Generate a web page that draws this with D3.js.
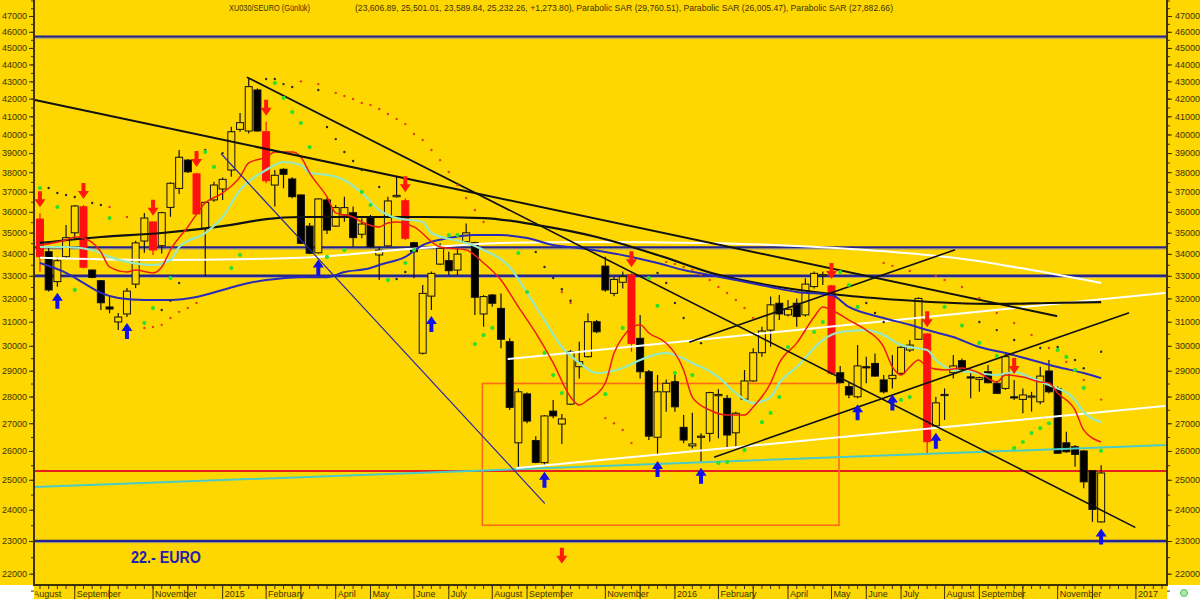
<!DOCTYPE html>
<html><head><meta charset="utf-8">
<script src="https://cdn.jsdelivr.net/npm/d3@7"></script>
<style>
body{margin:0;background:#fff;}
svg{display:block;}
text{font-family:"Liberation Sans",Arial,sans-serif;}
</style>
</head><body>
<svg id="c" width="1200" height="599"></svg>
<script>
// ---------------- DATA ----------------
const firstWeek = "2014-08-04";           // first weekly bar
const openP  = [35650,34100,32740,33870,34990,36250,33260,32780,31630,30990,31330,32630,34600,35510,34380,36220,37170,38630,37910,35200,36590,37140,38110,40280,40190,42500,40150,37340,38150,37650,36840,35310,34050,36590,35310,35850,35960,34920,35760,33950,34370,36750,36550,34520,29700,32100,33530,33690,33260,34570,34520,31330,32150,31570,30170,26290,28100,26370,25590,27450,26970,27710,29160,29560,31000,33440,32220,32710,33040,30310,28960,26490,28180,28570,26850,26180,26510,26630,28030,27930,26650,27900,28600,29720,30650,31790,31290,31790,31290,32520,33000,32550,28920,28380,27990,29160,29290,28640,28690,28900,29830,30270,30490,26900,28060,28920,29400,28760,28660,28960,28510,28310,27990,27890,27990,27800,28990,28310,26290,26150,26000,25310,23606.89];
const highP  = [35930,34330,33870,35360,36340,36340,33290,32810,32080,31370,32460,34610,35950,35520,36010,37480,39160,38690,37960,36500,37510,37730,40430,41190,43200,42590,40700,38110,38200,37740,36870,35460,36670,36690,36340,36750,36260,35690,35850,34330,36750,37800,36670,34570,32590,33190,34490,34100,34270,35440,34570,32150,32190,32220,30310,28310,28150,26530,27300,27870,27340,29830,30170,31360,31070,33870,32960,33190,33110,31290,29030,28830,28660,28960,27300,27390,26630,28180,28280,28060,27430,29030,29900,30790,32080,32150,31930,32000,32890,33190,33190,32590,29190,28570,30030,29560,29690,28830,29630,30030,30240,32050,30520,27980,28310,29630,29490,28900,28760,29230,28610,29690,28640,28310,28180,29160,29430,28380,26690,26210,26030,25330,25501.01];
const lowP   = [33180,32300,32510,33810,34650,33330,32890,31500,31360,30650,31200,32460,34050,33950,34020,35760,36890,37960,35850,32990,36500,36590,37770,40150,40060,40150,37430,36260,37170,36670,34470,33990,34020,34930,35280,35520,34330,34730,34270,32810,34330,36700,34650,32890,29650,31500,33490,33040,33040,34490,31290,30790,31640,29900,27490,25390,27000,25570,25480,27180,26250,27680,28700,29530,30520,32290,32100,32440,29760,28700,26390,25860,27430,27430,26270,26090,25620,26330,26450,26090,26150,27870,28570,29560,29960,31070,31220,30790,31220,32440,32590,28830,28510,27930,27930,28510,28760,28120,28310,28830,29750,30240,25860,26870,27120,28700,29030,27930,28180,28510,28100,28250,27870,27370,27430,27710,28120,25900,25940,25450,24710,23610,23589.84];
const closeP = [33870,32370,33685,34760,36290,33390,32930,31810,31540,31200,32320,34510,35700,34180,35960,37430,38780,38020,35900,36470,37340,37630,40150,40650,42690,40190,37560,37840,37890,36750,34490,34030,36640,35120,36210,36210,34760,35410,34330,34170,36540,36820,34730,34100,32220,33110,34260,33230,33990,34990,32050,32080,31790,30270,27590,28180,27080,25600,27270,27270,27160,29760,29360,31000,30580,32370,32840,32960,30100,28960,26530,28180,28510,27610,26390,26250,26530,28150,28080,26570,27370,28600,29720,30610,31720,31330,31530,31220,32630,33110,33050,28900,28530,28060,29190,29120,28790,28180,28820,29940,30030,32000,26330,27760,28080,29190,29060,28730,28730,28530,28120,29560,27950,28060,28020,28790,28180,25920,25970,25880,24930,24010,25232.26];
const redBars   = [0,5,13,18,26,42,68,91,102];          // bars painted red
const sellBars  = [0,5,13,18,26,42,68,91,102,112];      // red arrows above bar
const buyBars   = [2,10,32,45,58,71,76,94,98,103,122];  // blue arrows below bar
const extraSell = [["2015-09-28",22300]];               // lone red arrow at bottom

// indicator curves: [bar index, value]
const redMA = [[0,34410],[3,34650],[4,34790],[5,34740],[7,34090],[8,33400],[10,33170],[11,33260],[13,33130],[14,33400],[15,34180],[17,35270],[19,36440],[21,36940],[23,37760],[24,38480],[26,38790],[27,39060],[29,39060],[30,38790],[31,37960],[33,36740],[34,35950],[36,35750],[37,35510],[39,35270],[40,35460],[41,35510],[43,35270],[46,34320],[49,34180],[51,33580],[53,32810],[55,31630],[57,30530],[59,29310],[61,27980],[62,27680],[63,27870],[65,28520],[66,29710],[67,30360],[69,30870],[70,30530],[72,30110],[74,29030],[75,27980],[77,27490],[79,27300],[81,27300],[82,27600],[84,28520],[85,29310],[87,30110],[89,31200],[90,31630],[91,31500],[93,31070],[95,30650],[97,29950],[98,29150],[99,28830],[100,29150],[101,29430],[102,29150],[104,29030],[106,29110],[108,28910],[110,28560],[111,28830],[113,28750],[115,28560],[116,28520],[117,28130],[119,27490],[120,26750],[122,26320]];
const mintMA = [[0,34320],[3,34320],[6,34180],[8,33860],[10,33630],[13,33490],[15,33720],[16,34320],[19,34980],[21,35750],[23,37090],[26,38110],[28,38530],[30,38370],[31,37960],[33,37860],[35,37600],[37,36940],[39,36090],[41,35700],[44,35510],[45,34980],[49,34510],[51,34180],[54,33400],[56,32240],[58,31070],[60,29950],[62,29310],[64,28910],[67,29110],[69,29430],[72,29710],[73,29630],[75,29310],[78,28750],[80,28130],[82,27750],[84,27980],[85,28520],[87,29150],[90,30240],[92,30570],[95,30650],[97,30450],[99,30030],[100,29950],[102,29830],[103,29430],[105,29030],[107,28950],[110,28830],[112,28950],[114,28710],[116,28440],[119,27870],[120,27420],[122,27040]];
const navyMA = [[0,33580],[3,33130],[5,32680],[7,32240],[9,32020],[12,31930],[15,31930],[18,32060],[21,32370],[24,32680],[26,32810],[30,32940],[33,32940],[35,33170],[38,33350],[39,33490],[42,33860],[44,34410],[47,34740],[50,34880],[53,34880],[56,34740],[59,34410],[62,34270],[65,34090],[68,33860],[71,33580],[74,33260],[77,33040],[80,32810],[84,32500],[87,32280],[91,32150],[93,31630],[97,31160],[100,30870],[102,30650],[105,30360],[108,29950],[111,29710],[114,29430],[117,29150],[120,28910],[122,28710]];
const blackMA = [[0,34510],[7,34790],[14,34980],[22,35370],[26,35650],[30,35750],[37,35750],[44,35750],[51,35700],[57,35370],[64,34790],[71,33950],[78,33040],[85,32500],[92,32150],[99,31930],[105,31800],[110,31760],[116,31800],[122,31840]];
const whiteMA = [[0,33820],[13,33720],[30,33820],[41,34180],[53,34510],[64,34560],[76,34510],[87,34370],[95,34180],[102,33950],[107,33720],[114,33260],[122,32680]];

// Parabolic SAR dots: [bar index, value]
const sarGreen = [[0,37190],[2,36240],[4,32370],[8,35700],[12,30950],[13,31580],[15,32900],[19,39060],[20,38270],[22,33350],[23,33950],[27,42900],[28,42040],[29,41240],[30,40630],[31,39320],[33,33860],[35,34180],[37,36990],[38,36340],[40,32810],[42,33580],[43,34180],[47,34880],[48,34880],[50,30070],[51,30440],[52,30740],[55,34040],[56,32280],[58,29710],[59,28830],[60,28130],[65,28090],[67,30740],[70,32900],[71,31680],[73,28910],[75,28830],[78,25580],[79,25610],[81,26030],[83,27040],[84,27380],[85,27980],[86,29950],[89,30570],[90,30990],[92,33170],[93,32590],[94,31630],[99,27870],[100,27980],[104,31630],[106,30840],[108,30120],[110,29590],[112,26100],[113,26320],[114,26640],[115,26820],[116,27000],[117,29830],[118,29550],[119,29030],[120,28330],[122,26005.47]];
const sarBlack = [[1,37190],[2,36940],[3,36840],[4,36740],[6,36440],[7,36340],[14,31500],[15,31900],[16,32680],[19,39160],[21,39000],[26,43140],[27,43140],[28,42840],[29,42670],[32,42500],[33,40410],[34,39750],[35,39060],[36,38580],[37,38110],[39,37240],[40,32810],[41,32860],[42,33170],[57,34090],[58,33400],[59,32900],[60,32400],[61,31900],[71,33130],[72,32680],[73,31800],[74,31160],[76,30110],[95,31800],[96,31370],[97,30990],[108,30990],[110,30650],[112,30240],[115,29910],[117,29950],[119,29430],[120,29100],[122,29760.51]];
const sarRed = [[8,36240],[10,35750],[12,30740],[13,30780],[14,30870],[15,31160],[16,31420],[17,31590],[18,31800],[30,43000],[32,42840],[34,42330],[35,42150],[36,41980],[37,41750],[38,41640],[39,41410],[40,41130],[41,40850],[42,40570],[43,40030],[44,39700],[45,39160],[46,38630],[47,38010],[48,37340],[49,36690],[50,36090],[51,35510],[60,32280],[61,31800],[65,27190],[66,27000],[67,26750],[68,26280],[72,33630],[73,33540],[74,33400],[75,33260],[76,33040],[77,32810],[78,32500],[79,32240],[80,31930],[81,31590],[82,31160],[97,33580],[98,33450],[100,33220],[103,33000],[104,32810],[106,32500],[108,32020],[110,31370],[112,30950],[114,30450],[116,29910],[118,29350],[120,28640],[122,27882.66]];

// straight drawn lines: [date, value] endpoints
const trendA     = [["2014-07-31",41920],["2016-10-30",31240]];
const trendB     = [["2015-01-18",43230],["2017-01-01",23440]];
const trendUp1   = [["2016-01-09",30160],["2016-08-09",34180]];
const trendUp2   = [["2016-01-29",25790],["2016-12-27",31370]];
const blueDiag   = [["2014-12-28",38950],["2015-09-14",24220]];
const whiteLine1 = [["2015-08-16",29470],["2017-01-25",32240]];
const whiteLine2 = [["2015-08-23",25400],["2017-01-25",27640]];
const tealLine   = [["2014-07-31",24755],["2017-01-27",26210]];
const boxRange   = [["2015-07-26",28500],["2016-05-08",23500]];
const navyLevels = [45700,34300,33000,23000];
const redLevels  = [25300];

const yTicks = d3.range(22000, 47001, 1000);
const yMinor = d3.range(21500, 48001, 500);
const monthLabels = ["August","September","","November","","2015","February","","April","May","June","July","August","September","","November","","2016","February","","April","May","June","July","August","September","","November","","2017"];
const titleText = "XU030/SEURO (Günlük)";
const valuesText = "(23,606.89, 25,501.01, 23,589.84, 25,232.26, +1,273.80), Parabolic SAR (29,760.51), Parabolic SAR (26,005.47), Parabolic SAR (27,882.66)";
const noteText = "22.- EURO";

// ---------------- DRAW ----------------
const W = 1200, H = 599, L = 34, R = 1167, B = 585;
const YEL = "#FFD700", AX = "#3d3300";
const pd = s => { const [a,b,c] = s.split("-").map(Number); return new Date(a, b-1, c); };
const wk = i => d3.timeDay.offset(pd(firstWeek), 7*i);
const x = d3.scaleTime().domain([new Date(2014,6,31), new Date(2017,0,27)]).range([35, 1167]);
const y = d3.scaleLog().domain([48035, 21664]).range([0, 585]);

const svg = d3.select("#c");
svg.append("rect").attr("width", W).attr("height", H).attr("fill", "#fff");
svg.append("rect").attr("x", 0).attr("y", 0).attr("width", W).attr("height", B).attr("fill", YEL);
svg.append("rect").attr("x", L).attr("y", B).attr("width", R-L).attr("height", H-B).attr("fill", YEL);

const defs = svg.append("defs");
defs.append("clipPath").attr("id","plot").append("rect").attr("x", L).attr("y", 0).attr("width", R-L).attr("height", B);
defs.append("clipPath").attr("id","band").append("rect").attr("x", L+1).attr("y", B).attr("width", R-L-1).attr("height", H-B);

const g = svg.append("g").attr("clip-path", "url(#plot)");

// horizontal levels
g.selectAll(".nl").data(navyLevels).join("line")
  .attr("x1", L).attr("x2", R).attr("y1", d => y(d)).attr("y2", d => y(d))
  .attr("stroke", "#23238f").attr("stroke-width", 2.4);
g.selectAll(".nl2").data(navyLevels).join("line")
  .attr("x1", L).attr("x2", R).attr("y1", d => y(d)+1.6).attr("y2", d => y(d)+1.6)
  .attr("stroke", "#8a8ab0").attr("stroke-width", 0.8);
g.selectAll(".rl").data(redLevels).join("line")
  .attr("x1", L).attr("x2", R).attr("y1", d => y(d)).attr("y2", d => y(d))
  .attr("stroke", "#e8201a").attr("stroke-width", 1.8);

// box
g.append("rect")
  .attr("x", x(pd(boxRange[0][0]))).attr("y", y(boxRange[0][1]))
  .attr("width", x(pd(boxRange[1][0])) - x(pd(boxRange[0][0])))
  .attr("height", y(boxRange[1][1]) - y(boxRange[0][1]))
  .attr("fill", "none").attr("stroke", "#ff6a1a").attr("stroke-width", 1.6);

// candles
const bars = d3.range(openP.length).map(i => ({i, d: wk(i), o: openP[i], h: highP[i], l: lowP[i], c: closeP[i], red: redBars.includes(i)}));
const cg = g.append("g");
cg.selectAll("line").data(bars).join("line")
  .attr("x1", d => x(d.d)).attr("x2", d => x(d.d))
  .attr("y1", d => y(d.h)).attr("y2", d => y(d.l))
  .attr("stroke", d => d.red ? "#ff1010" : "#111").attr("stroke-width", 1.2);
cg.selectAll("rect").data(bars).join("rect")
  .attr("x", d => x(d.d) - 3.5).attr("width", 7)
  .attr("y", d => y(Math.max(d.o, d.c)))
  .attr("height", d => Math.max(1.2, Math.abs(y(d.o) - y(d.c))))
  .attr("fill", d => d.red ? "#ff1010" : (d.c < d.o ? "#000" : YEL))
  .attr("stroke", d => d.red ? "#ff1010" : "#111").attr("stroke-width", 1);

// straight lines
function seg(data, color, w) {
  g.append("line")
    .attr("x1", x(pd(data[0][0]))).attr("y1", y(data[0][1]))
    .attr("x2", x(pd(data[1][0]))).attr("y2", y(data[1][1]))
    .attr("stroke", color).attr("stroke-width", w).attr("stroke-linecap", "round");
}
seg(tealLine, "#4ccbc6", 2);
seg(whiteLine1, "#ffffff", 2);
seg(whiteLine2, "#ffffff", 2);

// moving-average curves
const ln = d3.line().x(d => x(wk(d[0]))).y(d => y(d[1])).curve(d3.curveMonotoneX);
function curve(data, color, w) {
  g.append("path").attr("d", ln(data)).attr("fill", "none").attr("stroke", color).attr("stroke-width", w);
}
curve(whiteMA, "#ffffff", 2);
curve(blackMA, "#111111", 2.2);
curve(navyMA, "#2a2ab8", 2);
curve(mintMA, "#98e8c2", 2.2);
curve(redMA, "#ee1c16", 1.5);

seg(trendA, "#111", 2);
seg(trendB, "#111", 1.6);
seg(trendUp1, "#111", 1.6);
seg(trendUp2, "#111", 1.6);
seg(blueDiag, "#2a2aa0", 1.2);

// SAR dots
function dots(data, color, r) {
  g.append("g").selectAll("circle").data(data).join("circle")
    .attr("cx", d => x(wk(d[0]))).attr("cy", d => y(d[1])).attr("r", r).attr("fill", color);
}
dots(sarRed, "#e0401a", 1.2);
dots(sarBlack, "#2a2a2a", 1.2);
dots(sarGreen, "#2ee02e", 2.1);

// arrows
const downArrow = "M0,0 L-5.5,-8 L-2,-8 L-2,-16 L2,-16 L2,-8 L5.5,-8 Z";
const upArrow   = "M0,0 L-5.5,8 L-2,8 L-2,16 L2,16 L2,8 L5.5,8 Z";
g.selectAll(".sa").data(sellBars).join("path")
  .attr("d", downArrow)
  .attr("transform", i => `translate(${x(wk(i))},${y(highP[i]) - 6})`)
  .attr("fill", "#ff1a0a");
g.selectAll(".ea").data(extraSell).join("path")
  .attr("d", downArrow)
  .attr("transform", d => `translate(${x(pd(d[0]))},${y(d[1])})`)
  .attr("fill", "#ff1a0a");
g.selectAll(".ba").data(buyBars).join("path")
  .attr("d", upArrow)
  .attr("transform", i => `translate(${x(wk(i))},${y(lowP[i]) + 6})`)
  .attr("fill", "#1010e8");

// note text
g.append("text").attr("x", 131).attr("y", 563).text(noteText)
  .attr("font-size", 16).attr("font-weight", "bold").attr("fill", "#1f1fb0")
  .attr("textLength", 70).attr("lengthAdjust", "spacingAndGlyphs");

// title
svg.append("text").attr("x", 229).attr("y", 10.5).text(titleText)
  .attr("font-size", 9).attr("fill", AX).attr("textLength", 81).attr("lengthAdjust", "spacingAndGlyphs");
svg.append("text").attr("x", 355).attr("y", 10.5).text(valuesText)
  .attr("font-size", 9).attr("fill", AX).attr("textLength", 538).attr("lengthAdjust", "spacingAndGlyphs");

// y axes
const fmt = d3.format("d");
const ra = svg.append("g").attr("transform", `translate(${R},0)`)
  .call(d3.axisRight(y).tickValues(yTicks).tickFormat(fmt).tickSize(5).tickPadding(3));
const ram = svg.append("g").attr("transform", `translate(${R},0)`)
  .call(d3.axisRight(y).tickValues(yMinor).tickFormat("").tickSize(3));
const la = svg.append("g").attr("transform", `translate(${L},0)`)
  .call(d3.axisLeft(y).tickValues(yTicks).tickFormat(fmt).tickSize(5).tickPadding(2));
const lam = svg.append("g").attr("transform", `translate(${L},0)`)
  .call(d3.axisLeft(y).tickValues(yMinor).tickFormat("").tickSize(3));
[ra, ram, la, lam].forEach(a => {
  a.select(".domain").remove();
  a.selectAll("line").attr("stroke", AX);
  a.selectAll("text").attr("fill", AX).attr("font-size", 9).attr("font-family", "Liberation Sans, Arial, sans-serif");
});
svg.append("line").attr("x1", R).attr("x2", R).attr("y1", 0).attr("y2", B+1).attr("stroke", AX).attr("stroke-width", 2);
svg.append("line").attr("x1", L).attr("x2", L).attr("y1", 0).attr("y2", B+1).attr("stroke", AX).attr("stroke-width", 2);
svg.append("line").attr("x1", L).attr("x2", R).attr("y1", B).attr("y2", B).attr("stroke", AX).attr("stroke-width", 2);

// x axis (week bars, month separators)
const bg = svg.append("g").attr("clip-path", "url(#band)");
const mondays = d3.timeMonday.range(new Date(2014,6,28), new Date(2017,0,30));
bg.selectAll(".mt").data(mondays).join("line")
  .attr("x1", d => x(d)).attr("x2", d => x(d)).attr("y1", B).attr("y2", B+4)
  .attr("stroke", AX).attr("stroke-width", 1);
const months = d3.timeMonth.range(new Date(2014,7,1), new Date(2017,1,1));
const firstBar = m => { let d = new Date(m); while (d.getDay() === 0 || d.getDay() === 6) d = d3.timeDay.offset(d, 1); return d3.timeMonday.floor(d); };
const mdata = months.map((m, k) => ({xpos: x(firstBar(m)), label: monthLabels[k]}));
bg.selectAll(".ms").data(mdata).join("line")
  .attr("x1", d => d.xpos).attr("x2", d => d.xpos).attr("y1", B).attr("y2", H)
  .attr("stroke", AX).attr("stroke-width", 1);
bg.selectAll(".ml").data(mdata).join("text")
  .attr("x", d => d.xpos + 2).attr("y", 597).text(d => d.label)
  .attr("font-size", 9).attr("fill", AX);

// corner icon
svg.append("circle").attr("cx", 1184).attr("cy", 593).attr("r", 3.5).attr("fill", "#a8e8a8").attr("stroke", "#5cbf5c").attr("stroke-width", 1);
</script>
</body></html>
